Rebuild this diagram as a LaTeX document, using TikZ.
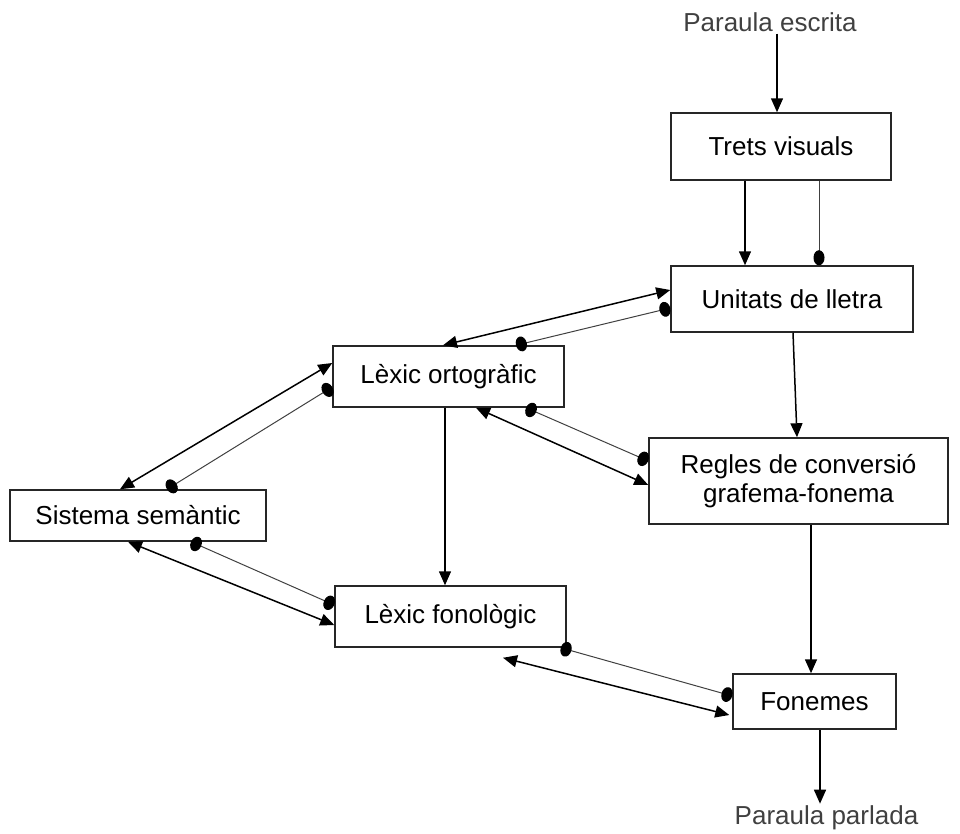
\documentclass[tikz,border=0pt]{standalone}
\usepackage{fontspec}
\setmainfont{Liberation Sans}
\usetikzlibrary{arrows.meta}
\tikzset{tri/.tip={Triangle[length=14pt,width=12pt]}, blob/.tip={Circle[length=11pt,width=15pt,black]}, blobv/.tip={Circle[length=15pt,width=11pt,black]}}
\tikzstyle{block} = [rectangle, draw=black!85, line width=1.5pt, text centered, inner sep=0pt]
\tikzstyle{extern} = [text=black!75, inner sep=2pt]
\tikzstyle{excit} = [line width=1.5pt, black]
\tikzstyle{inhib} = [line width=1pt, black!75]
\tikzstyle{every node}=[font=\fontsize{26}{29}\selectfont]

\begin{document}
\begin{tikzpicture}[x=1pt, y=-1pt]
			\useasboundingbox (0,0) rectangle (960,833);
			% caixes
			\node (escrita) [extern] at (770,22) {Paraula escrita};
			\node (trets) [block, minimum width=220pt, minimum height=67pt] at (781,146.5) {Trets visuals};
			\node (unitats) [block, minimum width=242pt, minimum height=66pt] at (792,299) {Unitats de lletra};
			\node (ortog) [block, minimum width=231pt, minimum height=61pt] at (448.5,376.5) {Lèxic ortogràfic};
			\node (regles) [block, minimum width=299pt, minimum height=86pt, align=center] at (798.5,481) {Regles de conversió\\grafema-fonema};
			\node (semant) [block, minimum width=256pt, minimum height=51pt] at (138,515.5) {Sistema semàntic};
			\node (fonol) [block, minimum width=231pt, minimum height=61pt] at (450.5,616.5) {Lèxic fonològic};
			\node (fonemes) [block, minimum width=163pt, minimum height=55pt] at (814.5,701.5) {Fonemes};
			\node (parlada) [extern] at (826.5,818) {Paraula parlada};
			% connexions
			\draw [excit, -tri] ([xshift=7pt]escrita.south) -- ([xshift=7pt]escrita.south |- trets.north);
			\draw [excit, -tri] ([xshift=-36pt]trets.south) -- ([xshift=-36pt]trets.south |- unitats.north);
			\draw [inhib, -blobv] ([xshift=38pt]trets.south) -- ([xshift=38pt]trets.south |- unitats.north);
			\draw [excit, tri-tri] ([xshift=-5.5pt]ortog.north) -- ([yshift=9pt]unitats.west);
			\draw [inhib, blob-blob] ([xshift=67.5pt]ortog.north) -- ([yshift=-9pt]unitats.west);
			\draw [excit, tri-tri] ([xshift=-18pt]semant.north) -- ([yshift=13.5pt]ortog.west);
			\draw [inhib, blob-blob] ([xshift=29pt]semant.north) -- ([yshift=-10.5pt]ortog.west);
			\draw [excit, tri-tri] ([xshift=-10pt]semant.south) -- ([yshift=-8.5pt]fonol.west);
			\draw [inhib, blob-blob] ([xshift=53pt]semant.south) -- ([yshift=11.5pt]fonol.west);
			\draw [excit, -tri] ([xshift=-3.5pt]ortog.south) -- ([xshift=-3.5pt]ortog.south |- fonol.north);
			\draw [excit, tri-tri] ([xshift=27.5pt]ortog.south) -- ([yshift=-4pt]regles.west);
			\draw [inhib, blob-blob] ([xshift=77.5pt]ortog.south) -- ([yshift=20pt]regles.west);
			\draw [excit, -tri] ([xshift=1pt]unitats.south) -- ([xshift=-1.5pt]regles.north);
			\draw [excit, -tri] ([xshift=12.5pt]regles.south) -- ([xshift=12.5pt]regles.south |- fonemes.north);
			\draw [inhib, blob-blob] ([xshift=-6pt]fonol.south east) -- ([yshift=5.5pt]fonemes.west);
			\draw [excit, tri-tri] ([xshift=52.5pt, yshift=-10pt]fonol.south) -- ([xshift=-3pt, yshift=-13.5pt]fonemes.west);
			\draw [excit, -tri] ([xshift=5.5pt]fonemes.south) -- ([xshift=5.5pt]fonemes.south |- parlada.north);
		\end{tikzpicture}
\end{document}
